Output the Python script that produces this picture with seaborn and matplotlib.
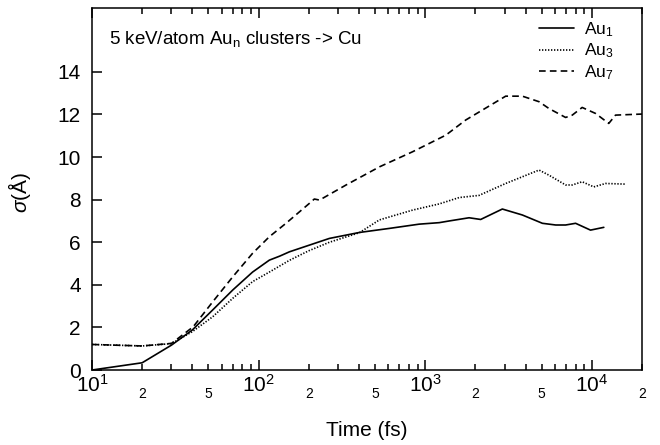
import numpy as np
import pandas as pd
import matplotlib
matplotlib.use("Agg")
import matplotlib.pyplot as plt
import matplotlib.ticker as mticker
import seaborn as sns

# data
t_au1 = [10, 20, 30, 40, 53, 70, 92, 116, 134, 153, 176, 266, 403, 609, 920,
         1213, 1393, 1833, 2152, 2903, 3828, 5050, 6070, 6960, 7990, 9820, 11800]
s_au1 = [0.0, 0.34, 1.17, 1.88, 2.82, 3.76, 4.6, 5.16, 5.35, 5.55, 5.71, 6.18, 6.46, 6.65, 6.85,
         6.92, 7.0, 7.15, 7.07, 7.56, 7.28, 6.89, 6.81, 6.81, 6.89, 6.57, 6.7]

t_au3 = [10, 20, 30, 40, 53, 70, 92, 116, 153, 200, 266, 403, 531, 840, 1213,
         1600, 2104, 3040, 4820, 5530, 6960, 7630, 8750, 10280, 12080, 15920]
s_au3 = [1.2, 1.13, 1.24, 1.8, 2.5, 3.37, 4.15, 4.6, 5.15, 5.6, 6.0, 6.45, 7.05, 7.51, 7.8,
         8.1, 8.2, 8.76, 9.39, 9.15, 8.69, 8.69, 8.84, 8.6, 8.76, 8.73]

t_au7 = [10, 20, 30, 40.5, 53, 70, 92, 116, 146, 202, 216, 232, 335, 531, 840,
         1330, 1750, 3040, 3828, 4820, 5530, 6960, 7630, 8750, 10520, 12640, 13870, 20000]
s_au7 = [1.2, 1.13, 1.25, 2.03, 3.2, 4.38, 5.48, 6.26, 6.89, 7.83, 8.03, 7.98, 8.69, 9.54, 10.25,
         11.03, 11.74, 12.86, 12.86, 12.6, 12.28, 11.86, 11.97, 12.33, 12.05, 11.58, 11.97, 12.02]

labels = ["Au$_1$", "Au$_3$", "Au$_7$"]

df = pd.concat([
    pd.DataFrame({"t": t_au1, "s": s_au1, "series": labels[0]}),
    pd.DataFrame({"t": t_au3, "s": s_au3, "series": labels[1]}),
    pd.DataFrame({"t": t_au7, "s": s_au7, "series": labels[2]}),
])

sns.set_style("ticks", {"axes.edgecolor": "black", "text.color": "black",
                        "xtick.color": "black", "ytick.color": "black",
                        "axes.labelcolor": "black"})
plt.rcParams["font.family"] = ["Liberation Sans", "DejaVu Sans"]
plt.rcParams["mathtext.fontset"] = "custom"
plt.rcParams["mathtext.rm"] = "Liberation Sans"
plt.rcParams["mathtext.it"] = "Liberation Sans:italic"

fig = plt.figure(figsize=(6.6, 4.45), dpi=100)
ax = fig.add_axes([0.1394, 0.1685, 0.8333, 0.8135])

sns.lineplot(data=df, x="t", y="s", style="series", color="black", sort=False,
             dashes={labels[0]: "", labels[1]: (0.8, 1.0), labels[2]: (4, 2.5)},
             linewidth=1.2, ax=ax)

ax.set_xscale("log")
ax.set_xlim(10, 2e4)
ax.set_ylim(0, 17)
ax.set_yticks(range(0, 15, 2))

ax.xaxis.set_major_locator(mticker.FixedLocator([10, 100, 1000, 10000]))
ax.xaxis.set_major_formatter(mticker.FuncFormatter(
    lambda v, p: "$10^{%d}$" % round(np.log10(v))))
minors = [m * 10 ** d for d in range(1, 5) for m in range(2, 10)]
minors = [m for m in minors if m <= 2e4]
ax.xaxis.set_minor_locator(mticker.FixedLocator(minors))
ax.xaxis.set_minor_formatter(mticker.FuncFormatter(
    lambda v, p: str(int(round(v / 10 ** np.floor(np.log10(v) + 1e-9))))
    if round(v / 10 ** np.floor(np.log10(v) + 1e-9)) in (2, 5) else ""))

ax.tick_params(axis="x", which="major", direction="in", top=True, length=7, width=1.1,
               labelsize=15, pad=3)
ax.tick_params(axis="x", which="minor", direction="in", top=True, length=4, width=1.1,
               labelsize=10, pad=12)
ax.tick_params(axis="y", which="major", direction="in", right=False, length=7, width=1.1,
               labelsize=15, pad=8)
for sp in ax.spines.values():
    sp.set_linewidth(1.1)
    sp.set_visible(True)
    sp.set_color("black")

ax.set_xlabel("Time (fs)", fontsize=15)
ax.xaxis.set_label_coords(0.5, -0.142)
ax.set_ylabel("$\\sigma$(Å)", fontsize=15)
ax.yaxis.set_label_coords(-0.107, 0.49)

ax.text(0.03, 0.914, "5 keV/atom Au$_\\mathrm{n}$ clusters -> Cu", transform=ax.transAxes,
        fontsize=13.5, va="center", ha="left")

ax.legend(frameon=False, loc="upper right", fontsize=12.5, handlelength=2.0,
          handletextpad=0.6, labelspacing=0.15, borderaxespad=0,
          bbox_to_anchor=(0.962, 0.985))

fig.savefig("out.png", dpi=100)
